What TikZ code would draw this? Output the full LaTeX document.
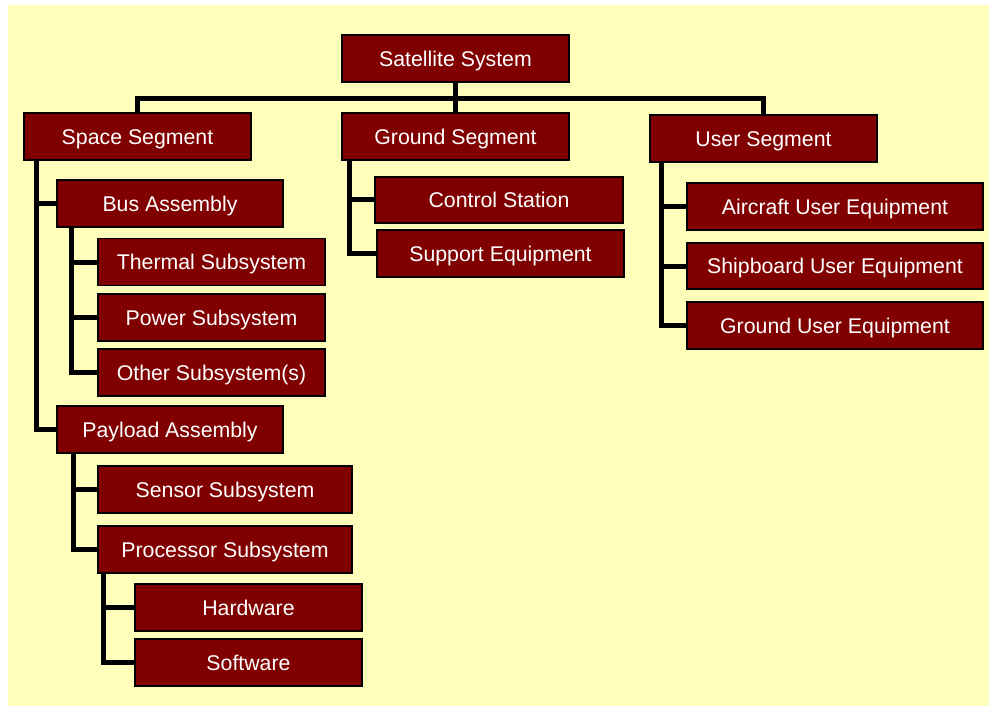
\documentclass[tikz,border=0pt]{standalone}
\usepackage{fontspec}
\setmainfont{Liberation Sans}
\definecolor{wbsred}{RGB}{128,0,0}
\definecolor{wbsbg}{RGB}{255,255,187}

\begin{document}
\begin{tikzpicture}[x=1pt,y=-1pt,
  wbs box/.style={
    fill=wbsred, draw=black, line width=1.2pt, text=white,
    minimum width=#1, minimum height=47pt, inner sep=0pt,
    text height=15.3pt, text depth=0pt,
    font=\fontsize{21.3}{25}\selectfont,
  },
  wbs box/.default=227pt,
  wbs line/.style={draw=black, line width=5pt},
  ]
  \useasboundingbox (0,0) rectangle (989,706);
  \fill[wbsbg] (8,5) rectangle (989,706);
  % top level and segments
  \node[wbs box] (sat) at (455.5,58.5) {Satellite System};
  \node[wbs box] (space) at (137.5,136.5) {Space Segment};
  \node[wbs box] (ground) at (455.5,136.5) {Ground Segment};
  \node[wbs box] (user) at (763.5,138.5) {User Segment};
  % space segment
  \node[wbs box=226pt] (bus) at (170,203.5) {Bus Assembly};
  \node[wbs box] (thermal) at (211.5,262) {Thermal Subsystem};
  \node[wbs box] (power) at (211.5,317.5) {Power Subsystem};
  \node[wbs box] (other) at (211.5,372.5) {Other Subsystem(s)};
  \node[wbs box=226pt] (payload) at (170,429.5) {Payload Assembly};
  \node[wbs box=254pt] (sensor) at (225,489.5) {Sensor Subsystem};
  \node[wbs box=254pt] (processor) at (225,549.5) {Processor Subsystem};
  \node[wbs box] (hardware) at (248.5,607.5) {Hardware};
  \node[wbs box] (software) at (248.5,662.5) {Software};
  % ground segment
  \node[wbs box=248pt, minimum height=46pt] (control) at (499,200) {Control Station};
  \node[wbs box=247pt] (support) at (500.5,253.5) {Support Equipment};
  % user segment
  \node[wbs box=296pt] (aircraft) at (835,206.5) {Aircraft User Equipment};
  \node[wbs box=296pt, minimum height=46pt] (shipboard) at (835,266) {Shipboard User Equipment};
  \node[wbs box=296pt] (grounduser) at (835,325.5) {Ground User Equipment};

  % connectors
  \draw[wbs line] (sat.south) -- (ground.north);
  \draw[wbs line] (space.north) |- ([yshift=-16pt]sat.south) -| (user.north);
  \draw[wbs line] ([xshift=13pt]space.south west) |- (bus.west);
  \draw[wbs line] ([xshift=13pt]space.south west) |- (payload.west);
  \foreach \n in {thermal,power,other}
    \draw[wbs line] ([xshift=15pt]bus.south west) |- (\n.west);
  \foreach \n in {sensor,processor}
    \draw[wbs line] ([xshift=17pt]payload.south west) |- (\n.west);
  \foreach \n in {hardware,software}
    \draw[wbs line] ([xshift=6pt]processor.south west) |- (\n.west);
  \foreach \n in {control,support}
    \draw[wbs line] ([xshift=8pt]ground.south west) |- (\n.west);
  \foreach \n in {aircraft,shipboard,grounduser}
    \draw[wbs line] ([xshift=12pt]user.south west) |- (\n.west);
\end{tikzpicture}
\end{document}
